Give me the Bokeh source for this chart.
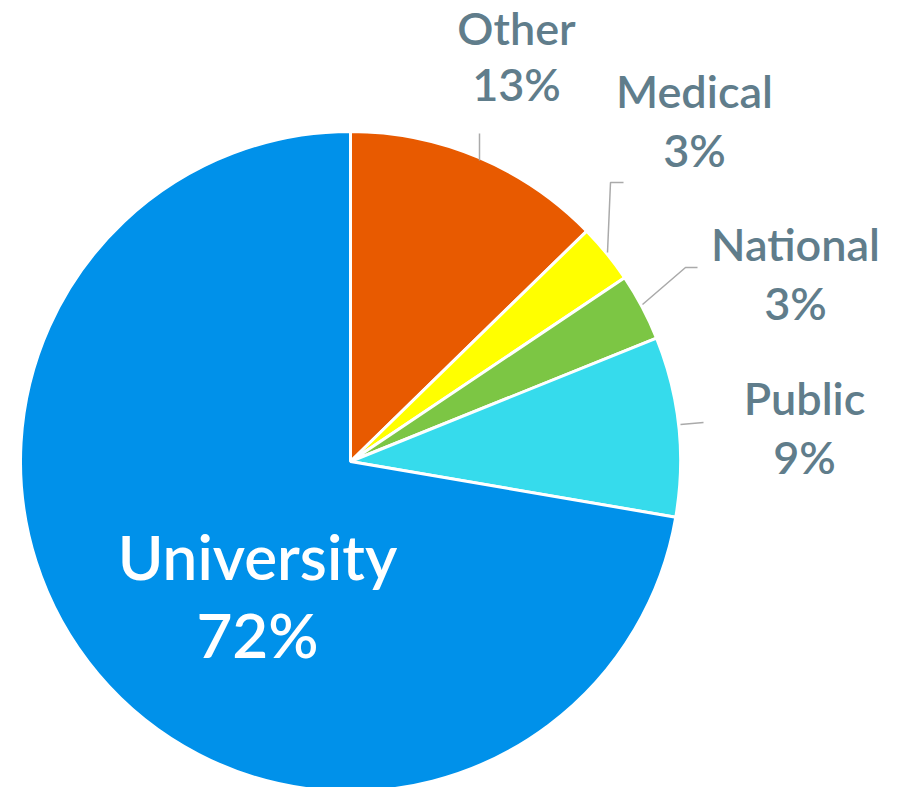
import math
from bokeh.plotting import figure
from bokeh.models import Range1d, ColumnDataSource
from bokeh.core.properties import value
from bokeh.embed import file_html
from bokeh.resources import INLINE

# ---- data ----
categories = ["Other", "Medical", "National", "Public", "University"]
shares = [12.7, 2.9, 3.3, 8.8, 72.3]
colors = ["#E85A00", "#FFFF00", "#7CC644", "#36DBEC", "#0091EA"]

# ---- layout ----
W, H = 899, 787
CX, CY, R = 350, -461, 330          # pie centre / radius in frame pixels (y up = negative)
FONT = value("Lato Semibold, Noto Sans")
GREY = "#607D8B"

p = figure(width=W, height=H, output_backend="svg", toolbar_location=None,
           x_range=Range1d(0, W), y_range=Range1d(-H, 0), min_border=0)
p.axis.visible = False
p.grid.visible = False
p.outline_line_color = None
p.background_fill_color = "white"

total = sum(shares)
starts, ends = [], []
a = math.pi / 2
for s in shares:
    span = s / total * 2 * math.pi
    ends.append(a)
    starts.append(a - span)
    a -= span

src = ColumnDataSource(dict(start=starts, end=ends, color=colors, cat=categories))
p.wedge(x=CX, y=CY, radius=R, start_angle="start", end_angle="end",
        fill_color="color", line_color="white", line_width=3, source=src)

# leader lines (layout)
leaders = {
    "Other":    ([479, 479], [-133, -160]),
    "Medical":  ([623, 610, 607], [-182, -182, -252]),
    "National": ([697, 685, 642], [-267, -267, -304]),
    "Public":   ([703, 680], [-422, -424]),
}
for k, (xs, ys) in leaders.items():
    p.line(xs, ys, line_color="#AAAAAA", line_width=1.5)

# label positions (centre x, baseline of name line, baseline of % line) in frame pixels
GFS = 45
label_pos = {
    "Other":    (516, -47, -103),
    "Medical":  (694, -110, -169),
    "National": (795, -263, -322),
    "Public":   (804, -417, -476),
}
pcts = [f"{round(s / total * 100)}%" for s in shares]
shift = 0.43 * GFS
for cat, pct in zip(categories, pcts):
    if cat == "University":
        continue
    x, y1, y2 = label_pos[cat]
    p.text(x=[x, x], y=[y1 + shift, y2 + shift], text=[cat, pct], text_font=FONT,
           text_font_size=f"{GFS}px", text_font_style="normal", text_color=GREY,
           text_align="center", text_baseline="alphabetic")

UFS = 62
ux, uy = 257, -582 + 0.43 * UFS
p.text(x=[ux, ux], y=[uy, uy - 78], text=["University", pcts[-1]], text_font=FONT,
       text_font_size=f"{UFS}px", text_font_style="normal", text_color="white",
       text_align="center", text_baseline="alphabetic")

open("out.html", "w").write(file_html(p, INLINE))
